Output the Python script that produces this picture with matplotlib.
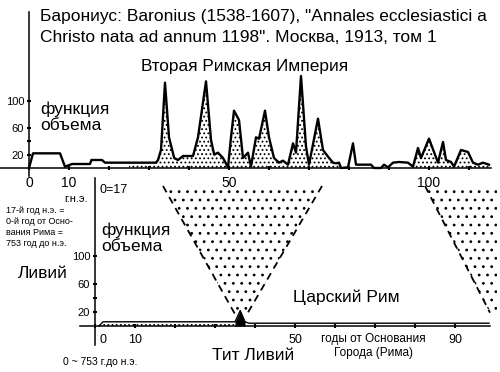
import matplotlib
matplotlib.use("Agg")
import matplotlib.pyplot as plt
import matplotlib.transforms as mtransforms
import numpy as np

plt.rcParams['font.family'] = ['Liberation Sans', 'DejaVu Sans']
plt.rcParams['hatch.color'] = 'black'
plt.rcParams['hatch.linewidth'] = 0.8

# Бароний: функция объема (годы н.э.)
baron_t = [0, 1, 7.75, 9, 10.75, 15.25, 15.6, 18.25, 19, 25, 31.75, 32.25, 33, 34, 35, 36.3,
           37.25, 38.5, 41, 42.25, 44.25, 45.5, 46.3, 47.25, 48.5, 49.75, 50.5, 51.25, 52.5,
           53.5, 54.75, 55.5, 56.75, 57.5, 59, 60, 61.25, 62.5, 63.5, 64.75, 66, 66.75, 68,
           69.25, 70, 72.25, 73.5, 74.75, 76, 76.75, 77.5, 78, 79.75, 81, 81.75, 83, 85.5,
           86.25, 88, 88.75, 89.75, 91, 92.5, 94.75, 96, 97.25, 98, 100, 102.25, 103.5,
           104.25, 105.5, 106.25, 108, 109.75, 111, 112.25, 113.5, 115]
baron_v = [0, 22, 22, 2, 6, 6, 12, 12, 8, 8, 8, 12, 27, 128, 46, 15, 12, 18, 18, 46, 130, 42,
           20, 23, 15, 1, 46, 86, 72, 15, 23, 2, 46, 44, 86, 46, 15, 8, 11, 5, 37, 23, 138,
           32, 5, 74, 27, 17, 8, 7, 8, 0, 1, 37, 5, 5, 5, 0, 0, 5, 1, 8, 9, 8, 2, 30, 15,
           44, 8, 39, 12, 9, 2, 27, 24, 8, 5, 8, 5]
baron_dots = [(25, 78), (96, 115)]

# Ливий: функция объема (годы от основания Рима)
livy_t = [1, 2, 35, 36.3, 37.5, 38.5, 98.5]
livy_v = [0, 6, 6, 22, 6, 4, 4]
livy_peak = (35, 37.5)

# области соответствия
tri1_t = [17, 56.75, 38, 35]
tri1_v = [200, 200, 17, 17]
tri2_t = [82.5, 100.5, 100.5, 98.75]
tri2_v = [200, 200, 19, 19]

W, H = 500, 372


def fx(x):
    return x / W


def fy(y):
    return 1 - y / H


fig = plt.figure(figsize=(5, 3.72), dpi=100)

ax1 = fig.add_axes([0, fy(178), 1, 178 / H])
ax1.set_xlim(-29 / 4, (500 - 29) / 4)
ax1.set_ylim((168 - 178) * 1.5, 168 * 1.5)

ax2 = fig.add_axes([0, 0, 1, fy(178)])
ax2.set_xlim(-95 / 4, (500 - 95) / 4)
ax2.set_ylim((326 - 372) / 0.7, (326 - 178) / 0.7)

for ax in (ax1, ax2):
    ax.patch.set_visible(False)
    ax.spines['top'].set_visible(False)
    ax.spines['right'].set_visible(False)
    ax.spines['left'].set_position(('data', 0))
    ax.spines['bottom'].set_position(('data', 0))
    ax.spines['left'].set_linewidth(1.1)
    ax.spines['bottom'].set_linewidth(1.1)
    ax.tick_params(which='both', direction='inout', length=3, width=1.5)

ax1.spines['left'].set_bounds(-12, 234)
ax1.spines['bottom'].set_bounds(-7.25, 115.5)
ax2.spines['left'].set_bounds(-27, 211)
ax2.spines['bottom'].set_bounds(-3.75, 98.75)

# верхний график
t = np.array(baron_t)
v = np.array(baron_v)
for a, b in baron_dots:
    m = (t >= a) & (t <= b)
    ax1.fill_between(t, v, where=m, facecolor='none', edgecolor='black',
                     hatch='....', linewidth=0)
ax1.plot(t, v, color='black', lw=1.7)

ax1.set_xticks([0, 10, 50, 100])
ax1.set_xticks([20, 30, 40, 60, 70, 80, 90, 110], minor=True)
ax1.set_yticks([20, 60, 100])
ax1.set_yticks([40], minor=True)
ax1.tick_params(axis='x', labelsize=10, pad=4)
ax1.tick_params(axis='y', labelsize=8, pad=2)

# нижний график
for tt, vv in ((tri1_t, tri1_v), (tri2_t, tri2_v)):
    ax2.fill(tt, vv, facecolor='none', edgecolor='black', hatch='..', linewidth=0)
ax2.plot(tri1_t[:1] + tri1_t[3:], tri1_v[:1] + tri1_v[3:], color='black', lw=1.3, ls=(0, (4, 3)))
ax2.plot(tri1_t[1:3], tri1_v[1:3], color='black', lw=1.3, ls=(0, (4, 3)))
ax2.plot(tri2_t[:1] + tri2_t[3:], tri2_v[:1] + tri2_v[3:], color='black', lw=1.3, ls=(0, (4, 3)))

lt = np.array(livy_t)
lv = np.array(livy_v)
ax2.fill_between(lt, lv, where=lt <= livy_peak[0], facecolor='none', edgecolor='black',
                 hatch='....', linewidth=0)
ax2.fill_between(lt, lv, where=(lt >= livy_peak[0]) & (lt <= livy_peak[1]),
                 color='black', linewidth=0)
ax2.plot(lt, lv, color='black', lw=1.0)

ax2.set_xticks([0, 10, 50, 90])
ax2.set_xticks([20, 30, 40, 60, 70, 80], minor=True)
ax2.set_yticks([20, 60, 100])
ax2.set_yticks([40], minor=True)
ax2.tick_params(axis='x', labelsize=9, pad=4)
ax2.tick_params(axis='y', labelsize=8, pad=2)
zero_lbl = ax2.get_xticklabels()[0]
zero_lbl.set_ha('left')
zero_lbl.set_transform(zero_lbl.get_transform() +
                       mtransforms.ScaledTranslation(3 / 72, 0, fig.dpi_scale_trans))

# подписи
fig.text(fx(40), fy(17), 'Барониус: Baronius (1538-1607), "Annales ecclesiastici a',
         fontsize=12.5, va='center', ha='left')
fig.text(fx(40), fy(37), 'Christo nata ad annum 1198". Москва, 1913, том 1',
         fontsize=12.5, va='center', ha='left')
fig.text(fx(245), fy(67), 'Вторая Римская Империя', fontsize=12.4, va='center', ha='center')
fig.text(fx(40), fy(117), 'функция\nобъема', fontsize=12.5, va='center', ha='left',
         linespacing=1.05)
fig.text(fx(76), fy(199), 'г.н.э.', fontsize=8, va='center', ha='center')
fig.text(fx(100), fy(190), '0=17', fontsize=9, va='center', ha='left')
fig.text(fx(6), fy(227), '17-й год н.э. =\n0-й год от Осно-\nвания Рима =\n753 год до н.э.',
         fontsize=6.5, va='center', ha='left', linespacing=1.25)
fig.text(fx(101), fy(238), 'функция\nобъема', fontsize=12.5, va='center', ha='left',
         linespacing=1.05)
fig.text(fx(18), fy(273), 'Ливий', fontsize=12.5, va='center', ha='left')
fig.text(fx(293), fy(297), 'Царский Рим', fontsize=12.5, va='center', ha='left')
fig.text(fx(212), fy(355), 'Тит Ливий', fontsize=12.5, va='center', ha='left')
fig.text(fx(63), fy(362), '0 ~ 753 г.до н.э.', fontsize=7.5, va='center', ha='left')
fig.text(fx(373), fy(346), 'годы от Основания\nГорода (Рима)', fontsize=8.5, va='center',
         ha='center', linespacing=1.3)

fig.savefig('out.png', dpi=100)
